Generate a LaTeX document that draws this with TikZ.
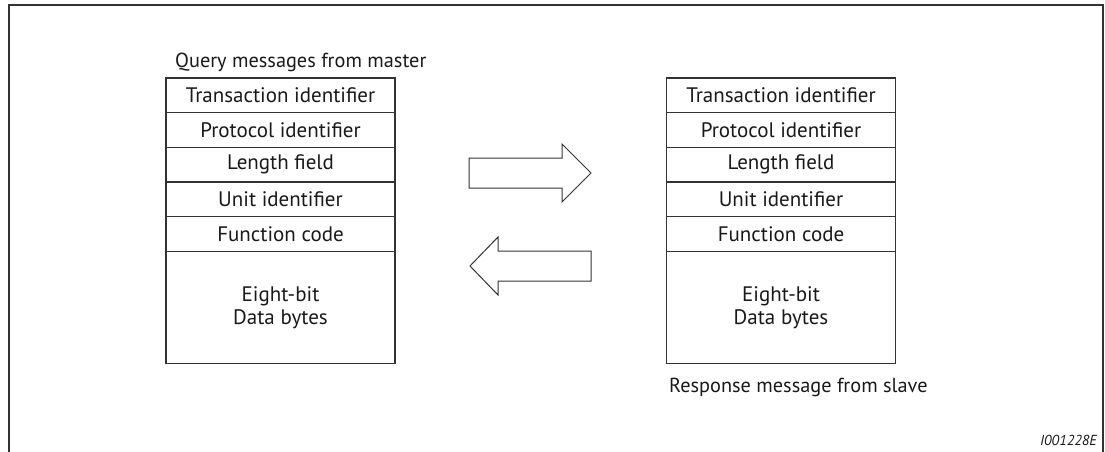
\documentclass[tikz,border=0pt]{standalone}
\usepackage{fontspec}
\setmainfont{PT Sans}
\usepackage{tikz}

\begin{document}
\begin{tikzpicture}[
    x=1pt, y=-1pt,
    every node/.style={font=\fontsize{21}{24}\selectfont, text=black!90},
    field/.style={rectangle, draw=black!80, line width=1.2pt, minimum width=229pt, minimum height=34.7pt, inner sep=0pt},
    databox/.style={field, minimum height=112pt, align=center},
    caption/.style={inner sep=0pt, font=\fontsize{20.3}{24}\selectfont},
    bigarrow/.style={draw=black!80, line width=1pt, fill=white, line join=miter}
]
\useasboundingbox (0,0) rectangle (1105,452);

% Frame
\draw[black!80, line width=1.5pt] (9,452) -- (9,5) -- (1103,5) -- (1103,452);

% Query from master
\node[caption, anchor=base west] (qlabel) at (175,67) {Query messages from master};
\node[field] (q1) at (280.5,95.3) {Transaction identifier};
\node[field] (q2) at (280.5,130) {Protocol identifier};
\node[field] (q3) at (280.5,164.7) {Length field};
\node[field] (q4) at (280.5,199.4) {Unit identifier};
\node[field] (q5) at (280.5,234.1) {Function code};
\node[databox] (q6) at (280.5,307.5) {Eight-bit\\[-1pt]Data bytes};

% Response from slave
\node[field] (r1) at (781,95.3) {Transaction identifier};
\node[field] (r2) at (781,130) {Protocol identifier};
\node[field] (r3) at (781,164.7) {Length field};
\node[field] (r4) at (781,199.4) {Unit identifier};
\node[field] (r5) at (781,234.1) {Function code};
\node[databox] (r6) at (781,307.5) {Eight-bit\\[-1pt]Data bytes};
\node[caption, anchor=base west] (rlabel) at (669,392) {Response message from slave};

% Arrows
\draw[bigarrow] (469,158) -- (562,158) -- (562,144) -- (591,173) -- (562,202) -- (562,188) -- (469,188) -- cycle;
\draw[bigarrow] (591,251) -- (498,251) -- (498,237) -- (470,266) -- (498,295) -- (498,281) -- (591,281) -- cycle;

% Figure number
\node[caption, anchor=base east, font=\fontsize{14.5}{17}\selectfont\itshape] (fignum) at (1097,445) {I001228E};

\end{tikzpicture}
\end{document}
